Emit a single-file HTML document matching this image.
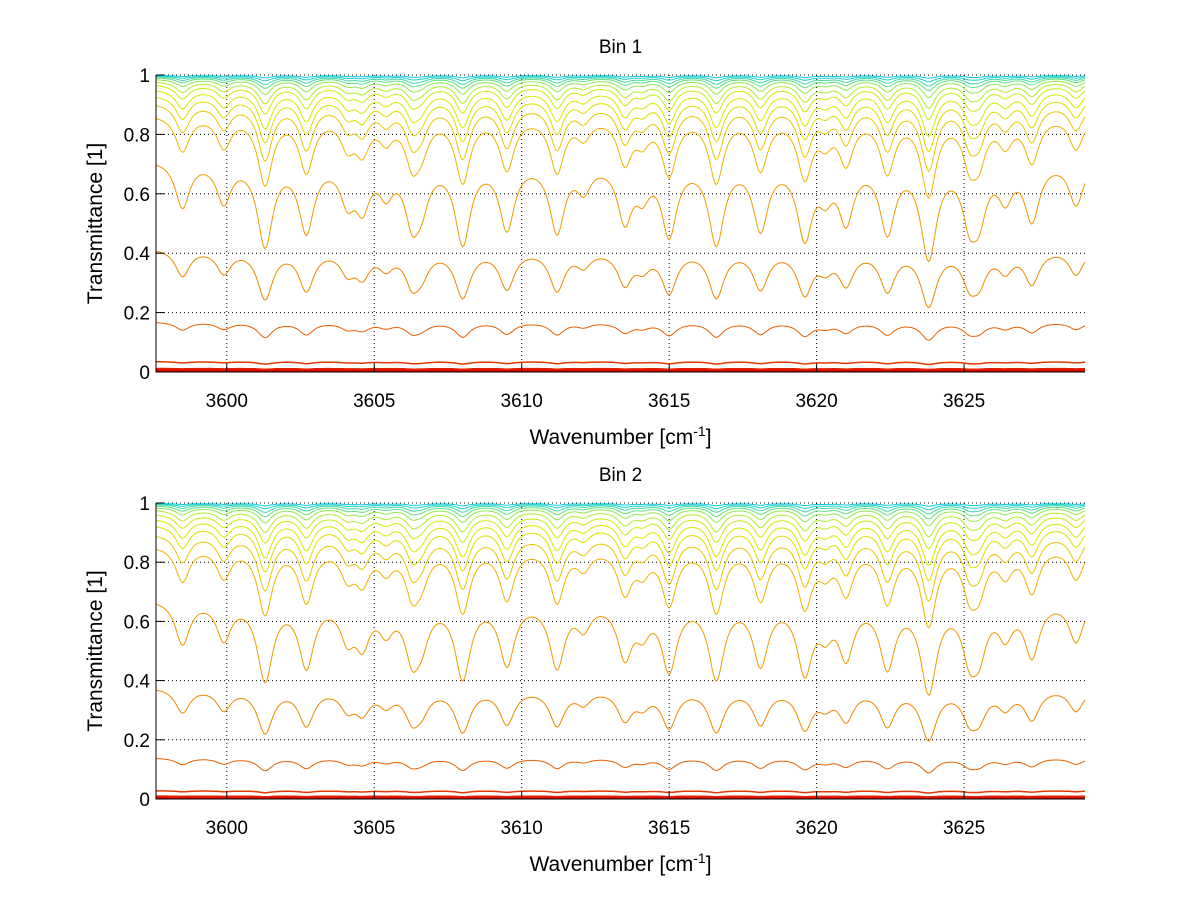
<!DOCTYPE html>
<html><head><meta charset="utf-8"><style>
body{margin:0;background:#fff;}
svg{display:block;font-family:"Liberation Sans",sans-serif;}
</style></head><body>
<svg id="fig" width="1200" height="901" viewBox="0 0 1200 901"></svg>
<script>
// Absorption line positions (cm^-1) and minimum transmittance of the reference (~0.72) curve
const lineCenters = [3598.5,3599.9,3601.3,3602.7,3604.1,3604.6,3605.4,3606.3,3606.6,3608.0,3609.5,3611.2,3612.1,3613.5,3614.1,3615.0,3616.6,3618.1,3619.6,3620.3,3621.0,3622.4,3623.8,3625.2,3625.5,3626.4,3627.3,3628.8];
const lineMinima  = [0.56,0.58,0.43,0.48,0.59,0.57,0.62,0.52,0.60,0.44,0.49,0.48,0.63,0.52,0.62,0.47,0.44,0.49,0.46,0.62,0.52,0.48,0.39,0.53,0.55,0.60,0.52,0.57];
// Curve continuum levels and line-strength exponents
const bin1Continuum = [0.003,0.008,0.012,0.035,0.17,0.42,0.72,0.87,0.91,0.935,0.955,0.97,0.98,0.987,0.992,0.995,0.997,0.999];
const bin2Continuum = [0.003,0.006,0.01,0.028,0.14,0.38,0.68,0.86,0.90,0.93,0.95,0.965,0.978,0.986,0.991,0.995,0.997,0.999];
const curveExponent = [0.5,0.5,0.5,0.5,0.7,1,1,0.6,0.45,0.35,0.28,0.2,0.15,0.1,0.07,0.05,0.03,0.015];
const curveColors = ["#d80000","#e01000","#e02000","#e03a00","#e86000","#ee8800","#f09a00","#f0b400","#e8c800","#e0dc00","#d8e800","#c8ec10","#b0ec30","#90e850","#60e080","#40d8a8","#20d0c8","#10c8e0"];
const xTicks = [3600,3605,3610,3615,3620,3625];
const yTicks = [0,0.2,0.4,0.6,0.8,1];
const XMIN=3597.6, XMAX=3629.1;
const NS="http://www.w3.org/2000/svg";
const svg=document.getElementById('fig');
function mk(t,a,p){const e=document.createElementNS(NS,t);for(const k in a)e.setAttribute(k,a[k]);(p||svg).appendChild(e);return e;}
const REF=0.72, W=0.28;
function tau(x){let s=0;for(let i=0;i<lineCenters.length;i++){const d=-Math.log(lineMinima[i]/REF);const u=(x-lineCenters[i])/W;s+=d/(1+u*u);}return s;}
function panel(top,bottom,title,cont,idx){
  const L=156,R=1085;
  const g=mk('g',{});
  
  
  const sx=v=>L+(v-XMIN)/(XMAX-XMIN)*(R-L);
  const sy=v=>bottom-v*(bottom-top);
  xTicks.forEach(t=>{const l=mk('line',{x1:sx(t),x2:sx(t),y1:top,y2:bottom,stroke:'#000','stroke-dasharray':'1,3','stroke-width':1},g);
    });
  yTicks.forEach(t=>{const l=mk('line',{x1:L,x2:R,y1:sy(t),y2:sy(t),stroke:'#000','stroke-dasharray':'1,3','stroke-width':1},g);
    });
  for(let k=0;k<cont.length;k++){
    let d='';
    for(let x=XMIN;x<=XMAX+1e-9;x+=0.05){const v=cont[k]*Math.exp(-curveExponent[k]*tau(x));d+=(d?'L':'M')+sx(x).toFixed(1)+','+sy(v).toFixed(1);}
    const p=mk('path',{d:d,fill:'none',stroke:curveColors[k],'stroke-width':k<4?1.5:1},g);
    
    
  }
  const b=mk('path',{d:`M${L},${top}V${bottom}H${R}`,fill:'none',stroke:'#000','stroke-width':1},g);
  
  xTicks.forEach(t=>{mk('line',{x1:sx(t),x2:sx(t),y1:bottom,y2:bottom-8,stroke:'#000'},g);
    const tx=mk('text',{x:sx(t),y:bottom+35,'text-anchor':'middle','font-size':19},g);tx.textContent=t;
    });
  yTicks.forEach(t=>{mk('line',{x1:L,x2:L+8,y1:sy(t),y2:sy(t),stroke:'#000'},g);
    const tx=mk('text',{x:L-6,y:sy(t)+7,'text-anchor':'end','font-size':19},g);tx.textContent=t;
    });
  const ti=mk('text',{x:(L+R)/2,y:top-22,'text-anchor':'middle','font-size':19},g);ti.textContent=title;
  
  const xl=mk('text',{x:(L+R)/2,y:bottom+72,'text-anchor':'middle','font-size':21},g);
  xl.innerHTML='Wavenumber [cm<tspan dy="-8" font-size="14">-1</tspan><tspan dy="8">]</tspan>';
  
  const yl=mk('text',{x:0,y:0,'text-anchor':'middle','font-size':21,transform:`translate(102,${(top+bottom)/2}) rotate(-90)`},g);
  yl.textContent='Transmittance [1]';
  
}
panel(75,372,'Bin 1',bin1Continuum,1);
panel(503,799,'Bin 2',bin2Continuum,2);
</script>
</body></html>
